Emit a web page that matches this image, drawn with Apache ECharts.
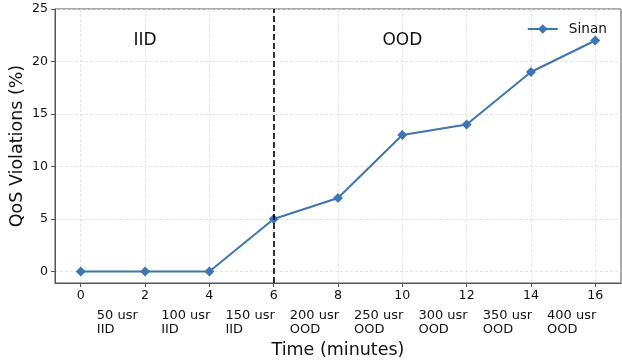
<!DOCTYPE html>
<html>
<head>
<meta charset="utf-8">
<script src="https://cdn.jsdelivr.net/npm/echarts@6/dist/echarts.min.js"></script>
<style>
html, body { margin: 0; padding: 0; background: #fff; }
#chart { width: 622px; height: 364px; }
</style>
</head>
<body>
<div id="chart"></div>
<script>
// data
var times = [0, 2, 4, 6, 8, 10, 12, 14, 16];
var violations = [0, 0, 0, 5, 7, 13, 14, 19, 22];
var xTicks = [0, 2, 4, 6, 8, 10, 12, 14, 16];
var yTicks = [0, 5, 10, 15, 20, 25];
var loadLabels = ['50 usr', '100 usr', '150 usr', '200 usr', '250 usr', '300 usr', '350 usr', '400 usr'];
var phaseLabels = ['IID', 'IID', 'IID', 'OOD', 'OOD', 'OOD', 'OOD', 'OOD'];
var loadLabelX = [0.5, 2.5, 4.5, 6.5, 8.5, 10.5, 12.5, 14.5];
var regionNotes = [{ name: 'IID', x: 2, y: 22 }, { name: 'OOD', x: 10, y: 22 }];
var boundary = 6;

var chart = echarts.init(document.getElementById('chart'));
var font = 'DejaVu Sans';
var lineColor = '#3d76b2';

var option = {
    animation: false,
    textStyle: { fontFamily: font },
    grid: {
        left: 55, right: 1, top: 9, bottom: 81,
        outerBoundsMode: 'none', containLabel: false,
        show: true, borderColor: '#555', borderWidth: 1
    },
    legend: {
        right: 10, top: 17,
        itemWidth: 30, itemHeight: 12, itemGap: 8,
        textStyle: { fontSize: 13.7, color: '#111', fontFamily: font, padding: [0, 0, 0, 6] },
        data: ['Sinan']
    },
    xAxis: {
        type: 'value', min: -0.8, max: 16.8, splitNumber: 9,
        name: 'Time (minutes)', nameLocation: 'middle', nameGap: 58,
        nameMoveOverlap: false,
        nameTextStyle: { fontSize: 17.5, color: '#111', fontFamily: font },
        axisLine: { show: true, onZero: false, lineStyle: { color: '#555' } },
        axisTick: { show: true, customValues: xTicks, length: 4, lineStyle: { color: '#555' } },
        axisLabel: { customValues: xTicks, fontSize: 12.6, color: '#111', margin: 6 },
        splitLine: { show: true, lineStyle: { color: '#ddd', type: [3, 2], width: 0.8 } }
    },
    yAxis: {
        type: 'value', min: -1.1, max: 25, splitNumber: 5,
        name: 'QoS Violations (%)', nameLocation: 'middle', nameGap: 29,
        nameMoveOverlap: false,
        nameTextStyle: { fontSize: 17.5, color: '#111', fontFamily: font },
        axisLine: { show: true, onZero: false, lineStyle: { color: '#555' } },
        axisTick: { show: true, customValues: yTicks, length: 4, lineStyle: { color: '#555' } },
        axisLabel: { customValues: yTicks, fontSize: 12.6, color: '#111', margin: 7 },
        splitLine: { show: true, lineStyle: { color: '#ddd', type: [3, 2], width: 0.8 } }
    },
    series: [{
        name: 'Sinan',
        type: 'line',
        data: times.map(function (t, i) { return [t, violations[i]]; }),
        symbol: 'diamond',
        symbolSize: 10,
        lineStyle: { color: lineColor, width: 2 },
        itemStyle: { color: lineColor },
        markLine: {
            silent: true,
            symbol: 'none',
            label: { show: false },
            lineStyle: { color: '#000', type: [6, 3], width: 1.6 },
            data: [{ xAxis: boundary }]
        },
        markPoint: {
            silent: true,
            symbol: 'circle',
            symbolSize: 0,
            label: {
                show: true, position: 'inside',
                fontSize: 17, color: '#111', fontFamily: font,
                formatter: function (p) { return p.name; }
            },
            data: regionNotes.map(function (r) { return { name: r.name, coord: [r.x, r.y] }; })
        }
    }]
};
chart.setOption(option);

// load / phase labels under the tick numbers, placed at data x positions
var subText = [];
for (var i = 0; i < loadLabels.length; i++) {
    var px = chart.convertToPixel({ gridIndex: 0 }, [loadLabelX[i], 0])[0];
    subText.push({
        type: 'text',
        x: px,
        y: 309,
        style: {
            text: loadLabels[i] + '\n' + phaseLabels[i],
            font: '13px "DejaVu Sans"',
            fill: '#111',
            lineHeight: 14
        }
    });
}
chart.setOption({ graphic: subText });
</script>
</body>
</html>
